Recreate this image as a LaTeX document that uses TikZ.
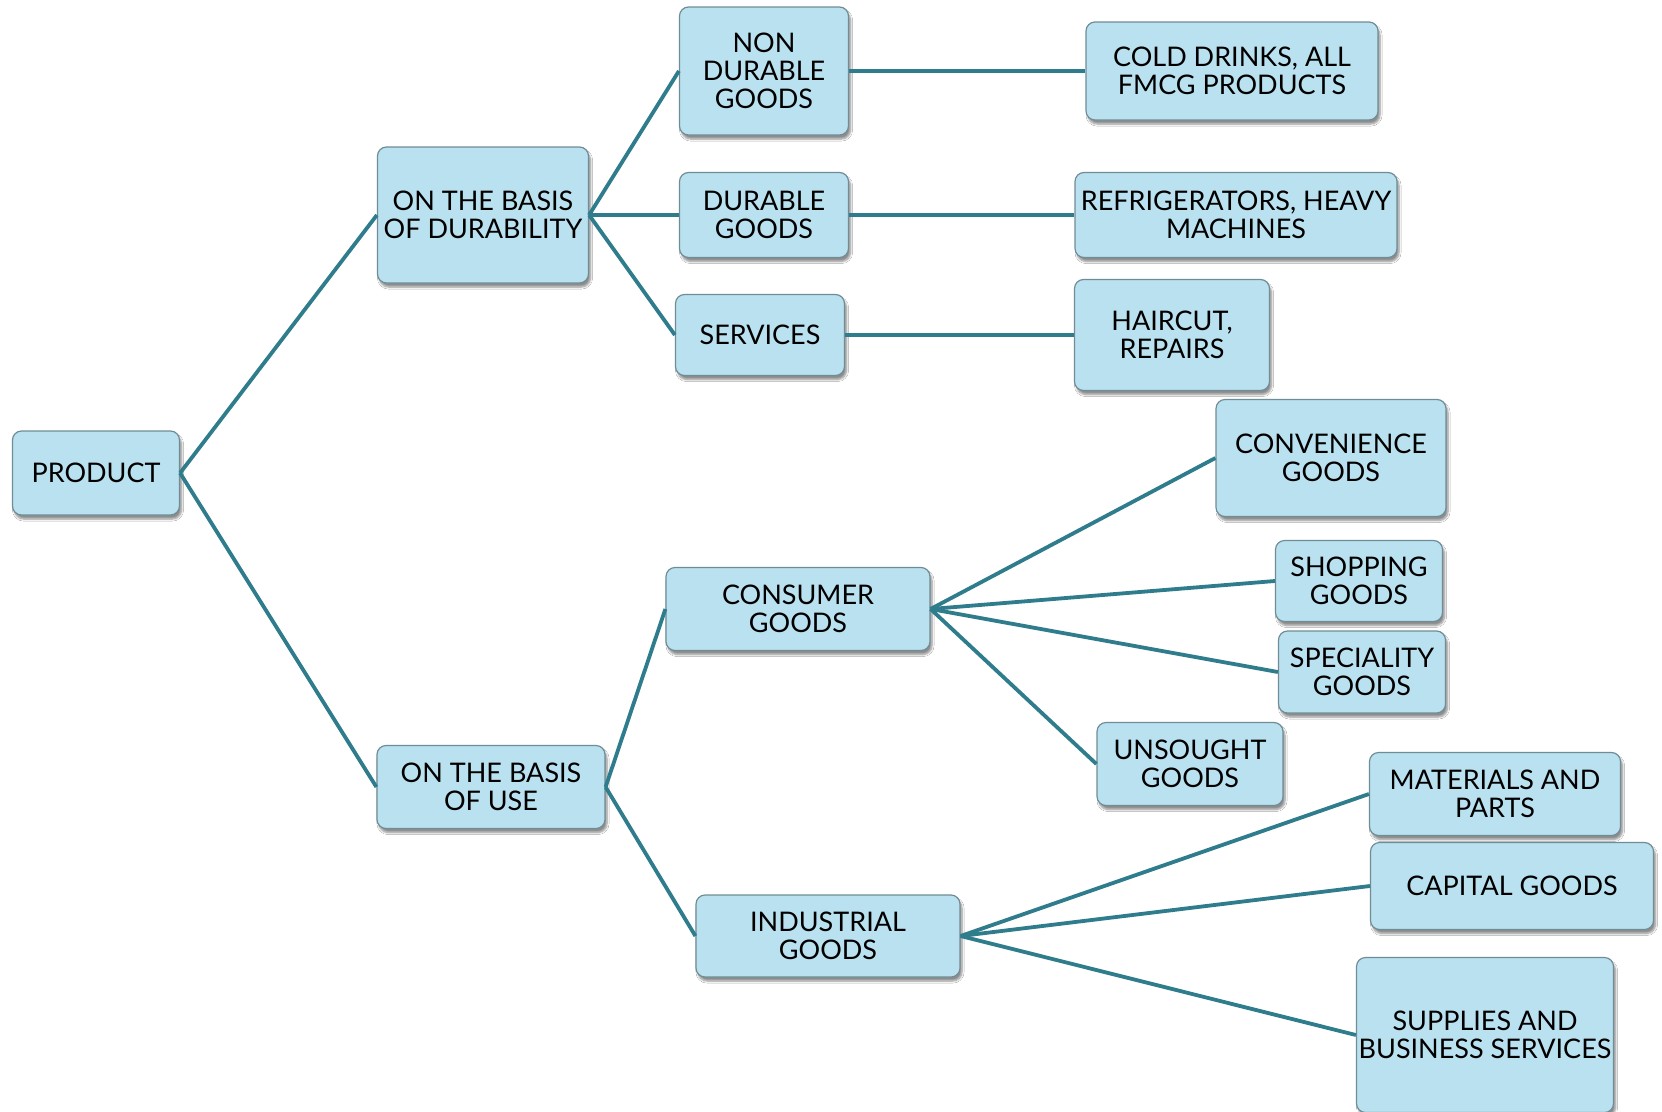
\documentclass[tikz,border=0pt]{standalone}
\usepackage{fontspec}
\setmainfont{Lato}
\usetikzlibrary{shadows.blur}
\definecolor{boxfill}{RGB}{186,225,239}
\definecolor{boxedge}{RGB}{112,140,150}
\definecolor{linkcol}{RGB}{47,124,140}
\tikzset{
  box/.style={draw=boxedge, line width=1.2pt, rounded corners=9pt, fill=boxfill,
    align=center, inner sep=0pt, font=\fontsize{27}{28}\selectfont,
    blur shadow={shadow xshift=2pt, shadow yshift=-4pt, shadow blur steps=6, shadow opacity=45}},
  link/.style={draw=linkcol, line width=3.8pt}
}
\begin{document}
\begin{tikzpicture}[x=1pt,y=-1pt]
\useasboundingbox[fill=white] (0,0) rectangle (1662,1111);
\node[box, minimum width=167pt, minimum height=84pt] (prod) at (96,473) {PRODUCT};
\node[box, minimum width=211pt, minimum height=136pt] (dur) at (483,215) {ON THE BASIS\\OF DURABILITY};
\node[box, minimum width=169pt, minimum height=128pt] (nondur) at (764,71) {NON\\DURABLE\\GOODS};
\node[box, minimum width=169pt, minimum height=85pt] (durg) at (764,215) {DURABLE\\GOODS};
\node[box, minimum width=169pt, minimum height=81pt] (serv) at (760,335) {SERVICES};
\node[box, minimum width=292pt, minimum height=98pt] (cold) at (1232,71) {COLD DRINKS, ALL\\FMCG PRODUCTS};
\node[box, minimum width=322pt, minimum height=85pt] (fridge) at (1236,215) {REFRIGERATORS, HEAVY\\MACHINES};
\node[box, minimum width=195pt, minimum height=111pt] (hair) at (1172,335) {HAIRCUT,\\REPAIRS};
\node[box, minimum width=228pt, minimum height=83pt] (use) at (491,787) {ON THE BASIS\\OF USE};
\node[box, minimum width=264pt, minimum height=83pt] (cons) at (798,609) {CONSUMER\\GOODS};
\node[box, minimum width=264pt, minimum height=82pt] (ind) at (828,936) {INDUSTRIAL\\GOODS};
\node[box, minimum width=230pt, minimum height=117pt] (conv) at (1331,458) {CONVENIENCE\\GOODS};
\node[box, minimum width=167pt, minimum height=81pt] (shop) at (1359,581) {SHOPPING\\GOODS};
\node[box, minimum width=167pt, minimum height=82pt] (spec) at (1362,672) {SPECIALITY\\GOODS};
\node[box, minimum width=186pt, minimum height=83pt] (uns) at (1190,764) {UNSOUGHT\\GOODS};
\node[box, minimum width=251pt, minimum height=83pt] (mat) at (1495,794) {MATERIALS AND\\PARTS};
\node[box, minimum width=283pt, minimum height=87pt] (cap) at (1512,886) {CAPITAL GOODS};
\node[box, minimum width=257pt, minimum height=155pt] (sup) at (1485,1035) {SUPPLIES AND\\BUSINESS SERVICES};
\draw[link] (prod.east) -- (dur.west);
\draw[link] (prod.east) -- (use.west);
\draw[link] (dur.east) -- (nondur.west);
\draw[link] (dur.east) -- (durg.west);
\draw[link] (dur.east) -- (serv.west);
\draw[link] (nondur.east) -- (cold.west);
\draw[link] (durg.east) -- (fridge.west);
\draw[link] (serv.east) -- (hair.west);
\draw[link] (use.east) -- (cons.west);
\draw[link] (use.east) -- (ind.west);
\draw[link] (cons.east) -- (conv.west);
\draw[link] (cons.east) -- (shop.west);
\draw[link] (cons.east) -- (spec.west);
\draw[link] (cons.east) -- (uns.west);
\draw[link] (ind.east) -- (mat.west);
\draw[link] (ind.east) -- (cap.west);
\draw[link] (ind.east) -- (sup.west);
\end{tikzpicture}
\end{document}
